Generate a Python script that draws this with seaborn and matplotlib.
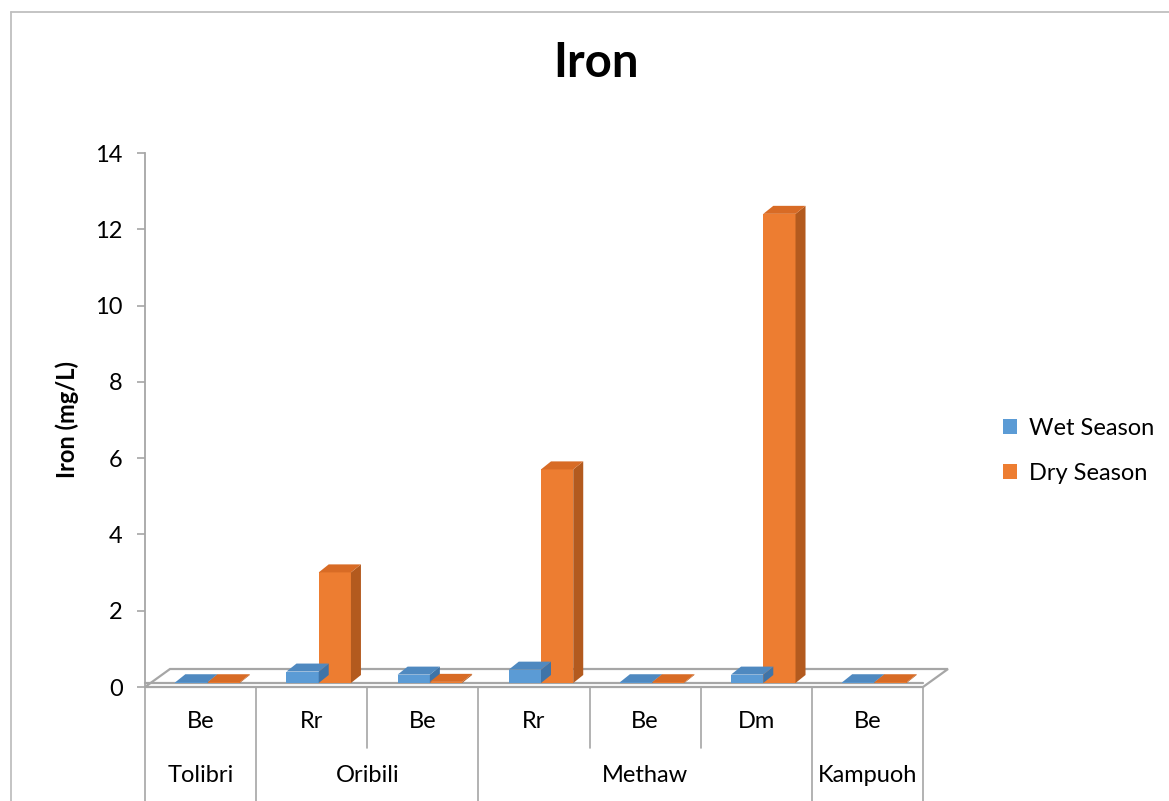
import numpy as np
import pandas as pd
import matplotlib
matplotlib.use("Agg")
import matplotlib.pyplot as plt
from matplotlib.patches import Polygon, Patch
from matplotlib.lines import Line2D
from matplotlib.transforms import ScaledTranslation
import seaborn as sns

# ---- data -------------------------------------------------------------
sites = ["Tolibri", "Oribili", "Oribili", "Methaw", "Methaw", "Methaw", "Kampuoh"]
sources = ["Be", "Rr", "Be", "Rr", "Be", "Dm", "Be"]
wet_season = [0.02, 0.30, 0.22, 0.35, 0.02, 0.22, 0.02]
dry_season = [0.02, 2.90, 0.03, 5.60, 0.02, 12.30, 0.02]
series_names = ["Wet Season", "Dry Season"]
y_ticks = [0, 2, 4, 6, 8, 10, 12, 14]

slots = [f"{s}|{t}|{i}" for i, (s, t) in enumerate(zip(sites, sources))]
df = pd.DataFrame({
    "slot": slots * 2,
    "value": wet_season + dry_season,
    "season": [series_names[0]] * len(slots) + [series_names[1]] * len(slots),
})

# ---- style ------------------------------------------------------------
sns.set_theme(style="white")
plt.rcParams["font.family"] = ["Lato", "DejaVu Sans"]
plt.rcParams["text.color"] = "black"
plt.rcParams["axes.labelcolor"] = "black"

BLUE, ORANGE = "#5B9BD5", "#ED7D31"
SIDE = {BLUE: "#3F74A8", ORANGE: "#B35A1E"}
TOP = {BLUE: "#4F89C0", ORANGE: "#D86B25"}
GRID_GREY = "#A6A6A6"
FS = 17

W, H, DPI = 1169, 801, 100
fig = plt.figure(figsize=(W / DPI, H / DPI), dpi=DPI)
left_px, right_px, top_px, bottom_px = 145, 923, 153, 687
ax = fig.add_axes([left_px / W, 1 - bottom_px / H,
                   (right_px - left_px) / W, (bottom_px - top_px) / H])

sns.barplot(data=df, x="slot", y="value", hue="season", order=slots,
            hue_order=series_names, palette=[BLUE, ORANGE], width=0.58,
            saturation=1, ax=ax, legend=False)

ax.set_ylim(0, 14)
ax.set_xlim(-0.5, len(slots) - 0.5)
ax.set_yticks(y_ticks)
ax.set_yticklabels([str(v) for v in y_ticks], fontsize=FS)
ax.set_xticks([])
ax.set_xlabel("")
ax.set_ylabel("Iron (mg/L)", fontsize=FS, fontweight="bold", labelpad=12)
for side in ["top", "right", "bottom"]:
    ax.spines[side].set_visible(False)
ax.spines["left"].set_color(GRID_GREY)
ax.spines["left"].set_linewidth(1.3)
ax.tick_params(axis="y", length=6, width=1.2, color=GRID_GREY, direction="out",
               left=True, pad=10, labelcolor="black")

# pixel sizes of one data unit
px_x = (right_px - left_px) / len(slots)
px_y = (bottom_px - top_px) / 14.0

# floor slab under the bars
floor_dx, floor_dy = 25 / px_x, 18 / px_y
x0, x1 = -0.5, len(slots) - 0.5
floor = Polygon([(x0, 0), (x1, 0), (x1 + floor_dx, floor_dy), (x0 + floor_dx, floor_dy)],
                closed=True, facecolor="white", edgecolor=GRID_GREY, lw=1.6,
                clip_on=False, zorder=1)
ax.add_patch(floor)
ax.plot([x0, x1], [0, 0], color=GRID_GREY, lw=1.6, clip_on=False, zorder=1,
        transform=ax.transData + ScaledTranslation(0, 4 / DPI, fig.dpi_scale_trans))

# give every bar a depth: side face and top face
depth_dx, depth_dy = 10 / px_x, 8 / px_y
shift = ScaledTranslation(7 / DPI, 4 / DPI, fig.dpi_scale_trans)
for container, color in zip(ax.containers, [BLUE, ORANGE]):
    for bar in container:
        bx, bw, bh = bar.get_x(), bar.get_width(), bar.get_height()
        bar.set_transform(ax.transData + shift)
        bar.set_zorder(3)
        bar.set_edgecolor("none")
        bar.set_clip_on(False)
        side_face = Polygon([(bx + bw, 0), (bx + bw + depth_dx, depth_dy),
                             (bx + bw + depth_dx, bh + depth_dy), (bx + bw, bh)],
                            closed=True, facecolor=SIDE[color], edgecolor="none",
                            transform=ax.transData + shift, zorder=3, clip_on=False)
        top_face = Polygon([(bx, bh), (bx + bw, bh), (bx + bw + depth_dx, bh + depth_dy),
                            (bx + depth_dx, bh + depth_dy)],
                           closed=True, facecolor=TOP[color], edgecolor="none",
                           transform=ax.transData + shift, zorder=3, clip_on=False)
        ax.add_patch(side_face)
        ax.add_patch(top_face)

# category table below the axis
def fy(py):
    return 1 - py / H

def fx(data_x):
    return (left_px + (data_x + 0.5) * px_x) / W

row1_y, row2_y, mid_y = 722, 775, 748
for i, src in enumerate(sources):
    fig.text(fx(i), fy(row1_y), src, ha="center", va="center", fontsize=FS)

groups = []
for i, s in enumerate(sites):
    if groups and groups[-1][0] == s:
        groups[-1][2] = i
    else:
        groups.append([s, i, i])
for name, a, b in groups:
    fig.text(fx((a + b) / 2), fy(row2_y), name, ha="center", va="center", fontsize=FS)

group_edges = {a - 0.5 for _, a, _ in groups} | {b + 0.5 for _, _, b in groups}
for k in range(len(slots) + 1):
    edge = k - 0.5
    x_fig = (left_px + k * px_x) / W
    y_end = fy(H) if edge in group_edges else fy(mid_y)
    fig.add_artist(Line2D([x_fig, x_fig], [fy(bottom_px), y_end],
                          color=GRID_GREY, lw=1.2))

# legend
handles = [Patch(facecolor=BLUE, edgecolor="none"), Patch(facecolor=ORANGE, edgecolor="none")]
fig.legend(handles, series_names, loc="center left",
           bbox_to_anchor=(982 / W, fy(451)), frameon=False, fontsize=FS,
           handlelength=0.6, handleheight=0.6, handletextpad=0.5,
           labelspacing=1.0)

# title
fig.text(596 / W, fy(63), "Iron", ha="center", va="center", fontsize=34,
         fontweight="bold", color="black")

# chart frame
fig.add_artist(Line2D([11 / W, 11 / W], [fy(12), 0], color="#BFBFBF", lw=1.3))
fig.add_artist(Line2D([11 / W, 1], [fy(12), fy(12)], color="#BFBFBF", lw=1.3))

fig.savefig("out.png", dpi=DPI)
